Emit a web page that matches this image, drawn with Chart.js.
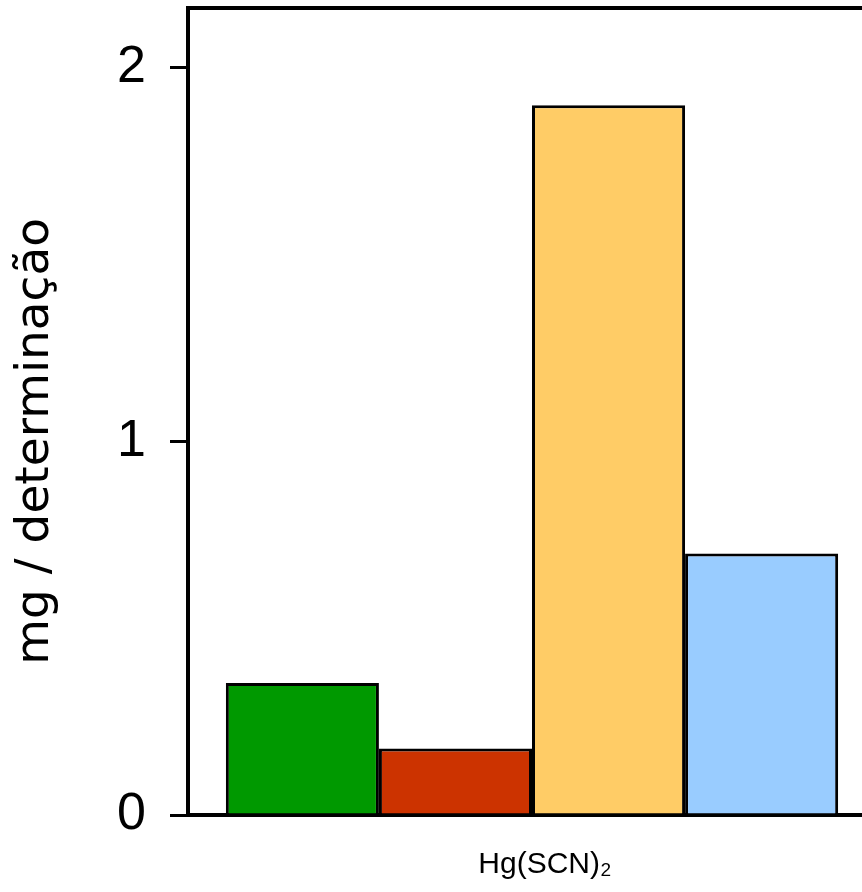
<!DOCTYPE html>
<html>
<head>
<meta charset="utf-8">
<script src="https://cdn.jsdelivr.net/npm/chart.js@4"></script>
<style>
  html, body { margin: 0; padding: 0; background: #fff; overflow: hidden; }
  #wrap { width: 880px; height: 892px; }
</style>
</head>
<body>
<div id="wrap"><canvas id="chartbar" width="880" height="892"></canvas></div>
<script>
// data
const categories = ['Hg(SCN)\u2082'];
const seriesNames = ['A', 'B', 'C', 'D'];
const seriesValues = [[0.353], [0.178], [1.90], [0.70]];
const seriesColors = ['#009900', '#cc3300', '#ffcc66', '#99ccff'];
const yTicks = [0, 1, 2];

// closes the box on top of the plot
const topBorder = {
    id: 'topBorder',
    afterDraw(chart) {
        const { ctx, chartArea } = chart;
        ctx.save();
        ctx.strokeStyle = '#000';
        ctx.lineWidth = 4;
        ctx.beginPath();
        ctx.moveTo(chartArea.left - 2, chartArea.top);
        ctx.lineTo(chartArea.right, chartArea.top);
        ctx.stroke();
        ctx.restore();
    }
};

const barCtx = document.getElementById('chartbar');
new Chart(barCtx, {
    type: 'bar',
    data: {
        labels: categories,
        datasets: seriesNames.map((name, i) => ({
            label: name,
            data: seriesValues[i],
            backgroundColor: seriesColors[i],
            borderColor: '#000',
            borderWidth: 3,
            categoryPercentage: 0.89,
            barPercentage: 1
        }))
    },
    options: {
        responsive: false,
        animation: false,
        layout: {
            padding: { top: 8, right: 4, left: 0, bottom: 0 }
        },
        plugins: {
            legend: { display: false },
            tooltip: { enabled: false }
        },
        scales: {
            x: {
                grid: { display: false },
                border: { display: true, color: '#000', width: 4 },
                ticks: {
                    color: '#000',
                    padding: 24,
                    labelOffset: 13,
                    font: { family: 'Liberation Sans, Arial, sans-serif', size: 30 }
                },
                afterFit(scale) {
                    scale.height = 77;
                    scale.paddingLeft = 0;
                    scale.paddingRight = 0;
                }
            },
            y: {
                min: 0,
                max: 2.16,
                afterBuildTicks(scale) {
                    scale.ticks = yTicks.map(v => ({ value: v }));
                },
                grid: {
                    drawOnChartArea: false,
                    drawTicks: true,
                    tickLength: 18,
                    color: '#000',
                    lineWidth: 3
                },
                border: { display: true, color: '#000', width: 4 },
                ticks: {
                    color: '#000',
                    padding: 24,
                    font: { family: 'Liberation Sans, Arial, sans-serif', size: 52 }
                },
                title: {
                    display: true,
                    text: 'mg / determinação\u00a0\u00a0\u00a0\u00a0',
                    color: '#000',
                    padding: { top: 8, bottom: 0 },
                    font: { family: 'DejaVu Sans, sans-serif', size: 47 }
                },
                afterFit(scale) {
                    scale.width = 188;
                    scale.paddingTop = 0;
                    scale.paddingBottom = 0;
                }
            }
        }
    },
    plugins: [topBorder]
});
</script>
</body>
</html>
